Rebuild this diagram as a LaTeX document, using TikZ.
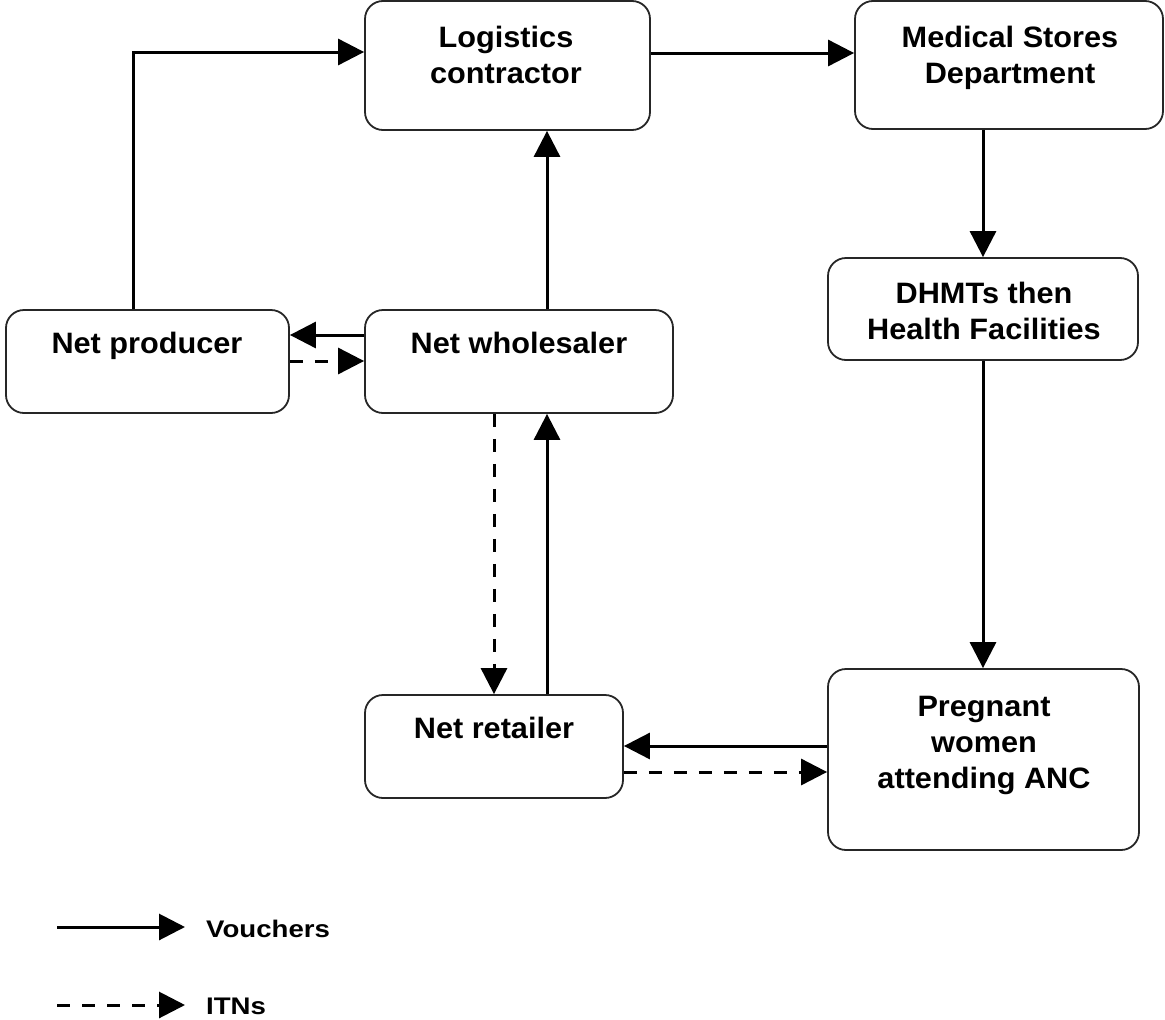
\documentclass[tikz,border=0pt]{standalone}
\usepackage{graphicx}
\usepackage{fontspec}
\setmainfont{Liberation Sans}
\usetikzlibrary{arrows.meta}
\newcommand\hsx[1]{\scalebox{1.04}[1]{#1}}
\newcommand\lsx[1]{\scalebox{1.15}[1]{#1}}
\begin{document}
\begin{tikzpicture}[x=1pt,y=-1pt,
  box/.style={draw=black!85,line width=1.8pt,rounded corners=18pt,inner sep=0pt},
  lbl/.style={font=\bfseries\fontsize{29.5}{36}\selectfont,align=center,anchor=north,inner sep=0pt},
  leg/.style={font=\bfseries\fontsize{24}{28}\selectfont,anchor=west,inner sep=0pt},
  vou/.style={line width=3pt,-{Triangle[length=26pt,width=26pt]}},
  itn/.style={line width=3pt,dash pattern=on 13pt off 12pt,-{Triangle[length=26pt,width=26pt]}}]
\useasboundingbox (0,0) rectangle (1165,1020);
% boxes
\node[box,minimum width=285pt,minimum height=129pt] (log) at (507.5,65.5) {};
\node[box,minimum width=308pt,minimum height=128pt] (msd) at (1009,65) {};
\node[box,minimum width=310pt,minimum height=102pt] (dhm) at (983,309) {};
\node[box,minimum width=283pt,minimum height=103pt] (prod) at (147.5,361.5) {};
\node[box,minimum width=308pt,minimum height=103pt] (wh) at (519,361.5) {};
\node[box,minimum width=258pt,minimum height=103pt] (ret) at (494,746.5) {};
\node[box,minimum width=311pt,minimum height=181pt] (preg) at (983.5,759.5) {};
% texts
\node[lbl] (tlog) at (506,26) {\hsx{Logistics}\\\hsx{contractor}};
\node[lbl] (tmsd) at (1010,26) {\hsx{Medical Stores}\\\hsx{Department}};
\node[lbl] (tdhm) at (984,282) {\hsx{DHMTs then}\\\hsx{Health Facilities}};
\node[lbl] (tprod) at (147,332) {\hsx{Net producer}};
\node[lbl] (twh) at (519,332) {\hsx{Net wholesaler}};
\node[lbl] (tret) at (494,717) {\hsx{Net retailer}};
\node[lbl] (tpreg) at (984,696) {\hsx{Pregnant}\\\hsx{women}\\\hsx{attending ANC}};
% connectors
\draw[vou] (prod.north -| 133,0) |- (log.west |- 0,52);
\draw[vou] (log.east |- 0,53) -- (msd.west |- 0,53);
\draw[vou] (msd.south -| 983,0) -- (dhm.north -| 983,0);
\draw[vou] (dhm.south -| 983,0) -- (preg.north -| 983,0);
\draw[vou] (wh.north -| 547,0) -- (log.south -| 547,0);
\draw[vou] (wh.west |- 0,335) -- (prod.east |- 0,335);
\draw[itn] (prod.east |- 0,361) -- (wh.west |- 0,361);
\draw[itn] (wh.south -| 494,0) -- (ret.north -| 494,0);
\draw[vou] (ret.north -| 547,0) -- (wh.south -| 547,0);
\draw[vou] (preg.west |- 0,746) -- (ret.east |- 0,746);
\draw[itn] (ret.east |- 0,772) -- (preg.west |- 0,772);
% legend
\coordinate (l1a) at (57,927);
\coordinate (l1b) at (185,927);
\coordinate (l2a) at (57,1005);
\coordinate (l2b) at (185,1005);
\draw[vou] (l1a) -- (l1b);
\draw[itn] (l2a) -- (l2b);
\node[leg] (tv) at (206,929) {\lsx{Vouchers}};
\node[leg] (ti) at (206,1006) {\lsx{ITNs}};
\end{tikzpicture}
\end{document}
